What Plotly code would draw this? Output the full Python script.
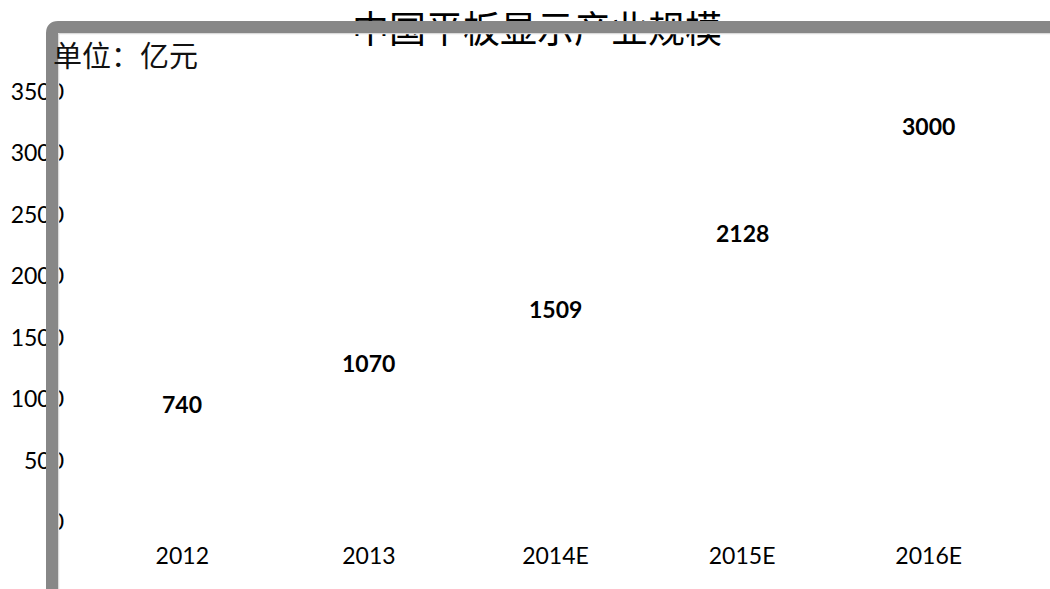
import plotly.graph_objects as go

categories = ["2012", "2013", "2014E", "2015E", "2016E"]
values = [740, 1070, 1509, 2128, 3000]
y_ticks = [0, 500, 1000, 1500, 2000, 2500, 3000, 3500]
title_text = "中国平板显示产业规模"
unit_text = "单位：亿元"

W, H = 1050, 589
L, R, T, B = 89, 28, 4, 67
PW, PH = W - L - R, H - T - B
TOP_TICK = 3500
TOP_TICK_PX = 92
# axis range chosen so that 3500 sits at pixel row 92 while the title fits inside the plot area
Y_MAX = TOP_TICK * PH / (H - B - TOP_TICK_PX)
positions = list(range(len(categories)))


def px_x(px):
    return (px - L) / PW


def px_y(py):
    return (H - B - py) / PH


fig = go.Figure()

# invisible (white) bars carrying the values
fig.add_trace(go.Bar(
    x=positions, y=values,
    marker=dict(color="white", line=dict(width=0)),
    width=0.5, hoverinfo="skip", showlegend=False,
))

# title drawn as a text trace so the frame can cross it
title_x = px_x(537) * len(categories) - 0.5
title_y = px_y(33.5) * Y_MAX
fig.add_trace(go.Scatter(
    x=[title_x], y=[title_y],
    mode="text", text=[title_text], textposition="middle center",
    textfont=dict(family="Noto Sans CJK SC", size=37, color="black"),
    cliponaxis=False, hoverinfo="skip", showlegend=False,
))

annotations = []
for p, v in zip(positions, values):
    annotations.append(dict(
        x=p, y=v, xref="x", yref="y", text=f"<b>{v}</b>", showarrow=False,
        yshift=27.5, yanchor="middle",
        font=dict(family="Lato", size=23, color="black"),
    ))
annotations.append(dict(
    x=px_x(52), y=px_y(54), xref="paper", yref="paper", text=unit_text,
    showarrow=False, xanchor="left", yanchor="middle", borderpad=0,
    font=dict(family="Noto Sans CJK SC", size=29, color="#111111"),
))


def frame_path(cx, cy, r):
    x0 = px_x(cx)
    yb = px_y(640)
    yt = px_y(cy)
    yc = px_y(cy + r)
    xc = px_x(cx + r)
    xr = px_x(1100)
    return f"M {x0},{yb} L {x0},{yc} Q {x0},{yt} {xc},{yt} L {xr},{yt}"


shapes = [
    dict(type="path", path=frame_path(58.5, 33.5, 1), xref="paper", yref="paper",
         layer="above", line=dict(color="#dadada", width=1.5),
         fillcolor="rgba(0,0,0,0)"),
    dict(type="path", path=frame_path(52, 27, 6), xref="paper", yref="paper",
         layer="above", line=dict(color="#878787", width=12),
         fillcolor="rgba(0,0,0,0)"),
]

fig.update_layout(
    width=W, height=H,
    margin=dict(l=L, r=R, t=T, b=B, autoexpand=False),
    paper_bgcolor="white", plot_bgcolor="white",
    showlegend=False,
    xaxis=dict(
        range=[-0.5, len(categories) - 0.5], tickvals=positions,
        ticktext=categories, showgrid=False, zeroline=False, showline=False,
        ticks="", ticklabelstandoff=18,
        tickfont=dict(family="Lato", size=23, color="black"),
    ),
    yaxis=dict(
        range=[0, Y_MAX], tickvals=y_ticks, showgrid=False, zeroline=False,
        showline=False, ticks="", ticklabelstandoff=24,
        tickfont=dict(family="Lato", size=23, color="black"),
    ),
    annotations=annotations,
    shapes=shapes,
)

fig.write_html(
    "out.html",
    config={"displayModeBar": False},
    post_script="document.body.style.margin='0px';document.body.style.overflow='hidden';",
)
